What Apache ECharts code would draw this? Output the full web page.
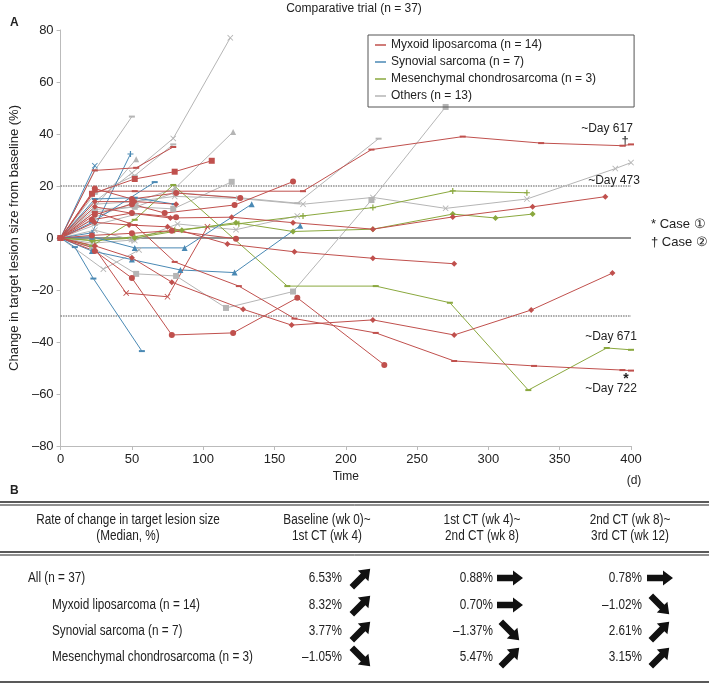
<!DOCTYPE html>
<html>
<head>
<meta charset="utf-8">
<script src="https://cdn.jsdelivr.net/npm/echarts@6/dist/echarts.min.js"></script>
<style>
  html, body { margin: 0; padding: 0; background: #fff; }
  #chart { width: 709px; height: 684px; }
</style>
</head>
<body>
<div id="chart"></div>
<script>
// days from start, % change from baseline
const myxoidLines = [
  [[0,0],[24,26],[53,27],[79,35]],
  [[0,0],[24,18],[52,18],[170,18],[218,34],[282,39],[337,36.5],[394,35.5],[400,36]],
  [[0,0],[22,17],[52,22.7],[80,25.5],[106,29.7]],
  [[0,0],[24,9],[50,13],[73,9.6],[122,12.7],[163,21.7]],
  [[0,0],[24,19],[50,15],[81,17.3],[126,15.4]],
  [[0,0],[24,14],[52,14],[81,13]],
  [[0,0],[24,12],[50,9.5],[77,7.7],[120,8],[163,5.9],[219,3.4],[275,8.1],[331,12],[382,15.9]],
  [[0,0],[22,1],[50,1.8],[78,2.8],[123,-0.3]],
  [[0,0],[24,-5],[50,-15.4],[78,-37.3],[121,-36.5],[166,-23],[227,-48.8]],
  [[0,0],[24,-3],[50,-7.6],[78,-17],[128,-27.4],[162,-33.5],[219,-31.5],[276,-37.3],[330,-27.7],[387,-13.5]],
  [[0,0],[24,-4],[46,-21.2],[75,-22.6],[103,4.3]],
  [[0,0],[24,10],[52,5],[80,-9.2],[125,-18.5],[164,-31],[221,-36.5],[276,-47.3],[332,-49.2],[394,-50.8],[400,-51]],
  [[0,0],[24,6],[48,5],[75,4.3],[117,-2.3],[164,-5.3],[219,-7.8],[276,-9.9]],
  [[0,0],[22,7],[50,9.6],[81,8]]
];
const myxoidMarks = ['dash','dash','rect','circle','circle','diamond','diamond','circle','circle','diamond','x','dash','diamond','circle'];

const synovialLines = [
  [[0,0],[24,27.8]],
  [[0,0],[22,2],[49,32.3]],
  [[0,0],[22,6],[66,21.5]],
  [[0,0],[22,0.5],[52,-3.8],[87,-3.8],[134,13]],
  [[0,0],[22,-5],[50,-8.3],[84,-12.3],[122,-13.3],[168,4.7]],
  [[0,0],[10,-3.5],[23,-15.6],[57,-43.5]],
  [[0,0],[24,15],[52,15.5],[80,13]]
];
const synovialMarks = ['x','plus','dash','triangle','triangle','dash','dash'];

const mesenLines = [
  [[0,0],[22,-3],[52,7],[79,20.4],[159,-18.5],[221,-18.5],[273,-24.9],[328,-58.5],[383,-42.3],[400,-43]],
  [[0,0],[24,-1],[52,0.5],[80,3],[125,5.5],[170,8.5],[219,11.7],[275,18.1],[327,17.4]],
  [[0,0],[22,-1],[52,0],[85,3],[123,5.9],[163,2.5],[219,3.4],[275,9.2],[305,7.7],[331,9.2]]
];
const mesenMarks = ['dash','plus','diamond'];

const otherLines = [
  [[0,0],[24,26],[50,46.7]],
  [[0,0],[24,14],[50,25],[79,38.3],[119,77]],
  [[0,0],[24,8],[53,14],[80,19],[121,40.8]],
  [[0,0],[24,12],[53,30.3]],
  [[0,0],[24,10],[52,12],[79,11.2],[120,21.6]],
  [[0,0],[22,-3.5],[53,-13.8],[81,-14.6],[116,-26.9],[163,-20.6],[218,14.6],[270,50.4]],
  [[0,0],[24,13],[52,14],[80,16],[125,15.2],[170,13],[219,15.6],[270,11.4],[327,15],[389,26.7],[400,29]],
  [[0,0],[24,11],[53,12],[80,17.5],[125,15.5],[166,13.4],[223,38.2]],
  [[0,0],[24,3],[52,-1],[82,5.4],[123,3.2],[166,8.5]],
  [[0,0],[30,-12],[55,-4.6]],
  [[0,0],[22,-2],[50,-0.8]],
  [[0,0],[24,17],[52,24],[79,36]],
  [[0,0],[24,5],[52,9]]
];
const otherMarks = ['dash','x','triangle','triangle','rect','rect','x','dash','x','x','star','dash','dash'];

const groupNames = ['Myxoid liposarcoma (n = 14)', 'Synovial sarcoma (n = 7)', 'Mesenchymal chondrosarcoma (n = 3)', 'Others (n = 13)'];
const refLevels = [20, -30];
const xTicks = [0, 400, 50];
const yTicks = [-80, 80, 20];

// table (panel B)
const tableHeader = ['Rate of change in target lesion size\n(Median, %)', 'Baseline (wk 0)~\n1st CT (wk 4)', '1st CT (wk 4)~\n2nd CT (wk 8)', '2nd CT (wk 8)~\n3rd CT (wk 12)'];
const tableRows = ['All (n = 37)', 'Myxoid liposarcoma (n = 14)', 'Synovial sarcoma (n = 7)', 'Mesenchymal chondrosarcoma (n = 3)'];
const tableValues = [
  ['6.53%', '0.88%', '0.78%'],
  ['8.32%', '0.70%', '\u20131.02%'],
  ['3.77%', '\u20131.37%', '2.61%'],
  ['\u20131.05%', '5.47%', '3.15%']
];
const tableTrends = [
  ['up', 'flat', 'flat'],
  ['up', 'flat', 'down'],
  ['up', 'down', 'up'],
  ['down', 'up', 'up']
];

const colors = ['#c0504d', '#4a89b4', '#8aa83e', '#b5b5b5'];
const FONT = "'Liberation Sans', Arial, sans-serif";

const SYM = {
  circle: ['circle', 6],
  rect: ['rect', 6],
  diamond: ['diamond', 6],
  triangle: ['triangle', 6],
  dash: ['path://M0,0H10V3H0Z', [6, 2]],
  x: ['path://M0,1L1,0L5,4L9,0L10,1L6,5L10,9L9,10L5,6L1,10L0,9L4,5Z', 6],
  plus: ['path://M4,0H6V4H10V6H6V10H4V6H0V4H4Z', 6],
  star: ['path://M4.3,0H5.7V3.4L8.6,1.5L9.3,2.7L6.3,4.3L6.3,5.7L9.3,7.3L8.6,8.5L5.7,6.6V10H4.3V6.6L1.4,8.5L0.7,7.3L3.7,5.7V4.3L0.7,2.7L1.4,1.5L4.3,3.4Z', 7]
};

function buildSeries(lines, marks, name, color) {
  return lines.map((pts, i) => ({
    name: name,
    type: 'line',
    data: pts,
    symbol: SYM[marks[i]][0],
    symbolSize: SYM[marks[i]][1],
    lineStyle: { color: color, width: 1 },
    itemStyle: { color: color },
    emphasis: { disabled: true },
    z: 3
  }));
}

let series = [];
refLevels.forEach(v => {
  series.push({
    type: 'line', data: [[0, v], [400, v]], symbol: 'none', silent: true,
    lineStyle: { color: '#555', width: 1.2, type: [1.5, 1] }, z: 2
  });
});
series.push({
  type: 'line', data: [[0, 0], [400, 0]], symbol: 'none', silent: true,
  lineStyle: { color: '#222', width: 1.2 }, z: 2
});
series = series
  .concat(buildSeries(otherLines, otherMarks, groupNames[3], colors[3]))
  .concat(buildSeries(mesenLines, mesenMarks, groupNames[2], colors[2]))
  .concat(buildSeries(synovialLines, synovialMarks, groupNames[1], colors[1]))
  .concat(buildSeries(myxoidLines, myxoidMarks, groupNames[0], colors[0]));

// graphic elements: labels, annotations, table
const graphics = [];
function txt(x, y, s, opt, sx) {
  graphics.push({
    type: 'text', x: x, y: y, scaleX: sx || 1, silent: true,
    style: Object.assign({ text: s, fill: '#222', font: '12px ' + FONT, textAlign: 'left', textVerticalAlign: 'middle' }, opt || {})
  });
}
function hline(y, w) {
  graphics.push({ type: 'line', silent: true, shape: { x1: 0, y1: y, x2: 709, y2: y }, style: { stroke: '#222', lineWidth: w } });
}
function arrow(cx, cy, dir) {
  const rot = dir === 'up' ? Math.PI / 4 : (dir === 'down' ? -Math.PI / 4 : 0);
  graphics.push({
    type: 'polygon', x: cx, y: cy, rotation: rot, silent: true,
    shape: { points: [[-13, -3.2], [3, -3.2], [3, -7.5], [13, 0], [3, 7.5], [3, 3.2], [-13, 3.2]] },
    style: { fill: '#111' }
  });
}

txt(354, 9, 'Comparative trial (n = 37)', { textAlign: 'center', font: '12px ' + FONT });
txt(10, 23, 'A', { font: 'bold 12px ' + FONT });
txt(10, 491, 'B', { font: 'bold 12px ' + FONT });
txt(634, 481, '(d)', { textAlign: 'center', font: '12px ' + FONT });
txt(607, 129, '~Day 617', { textAlign: 'center' });
txt(625, 141, '\u2020', { textAlign: 'center', font: '13px ' + FONT });
txt(614, 181, '~Day 473', { textAlign: 'center' });
txt(611, 337, '~Day 671', { textAlign: 'center' });
txt(626, 379, '*', { textAlign: 'center', font: 'bold 14px ' + FONT });
txt(611, 389, '~Day 722', { textAlign: 'center' });
txt(651, 224, '* Case \u2460', { font: '13px ' + FONT });
txt(651, 242, '\u2020 Case \u2461', { font: '13px ' + FONT });

// table
hline(502, 1.5); hline(505, 1);
hline(552, 1.5); hline(555, 1);
hline(682, 1.5);
const SX = 0.84;
const TFONT = '14px ' + FONT;
const headX = [128, 327, 482, 630];
tableHeader.forEach((h, i) => {
  txt(headX[i], 528, h, { textAlign: 'center', font: TFONT, lineHeight: 16 }, SX);
});
const rowY = [578, 605, 631, 657];
const valX = [342, 493, 642];
const arrX = [361, 510, 660];
tableRows.forEach((r, i) => {
  txt(i === 0 ? 28 : 52, rowY[i], r, { font: TFONT }, SX);
  tableValues[i].forEach((v, j) => {
    txt(valX[j], rowY[i], v, { textAlign: 'right', font: TFONT }, SX);
    arrow(arrX[j], rowY[i], tableTrends[i][j]);
  });
});

const chart = echarts.init(document.getElementById('chart'));
chart.setOption({
  animation: false,
  textStyle: { fontFamily: FONT },
  grid: { left: 53, right: 78, top: 30, bottom: 238 },
  legend: {
    data: groupNames,
    orient: 'vertical',
    left: 368, top: 35,
    padding: [3, 38, 4, 7],
    itemGap: 3,
    itemWidth: 11, itemHeight: 1.5,
    icon: 'rect',
    borderColor: '#555', borderWidth: 1,
    selectedMode: false,
    textStyle: { fontSize: 12, color: '#222', fontFamily: FONT, lineHeight: 14 }
  },
  xAxis: {
    type: 'value', min: xTicks[0], max: xTicks[1], interval: xTicks[2],
    name: 'Time', nameLocation: 'middle', nameGap: 25,
    nameTextStyle: { fontSize: 12, color: '#222' },
    axisLine: { show: true, onZero: false, lineStyle: { color: '#bbb' } },
    axisTick: { show: true, length: 4, lineStyle: { color: '#bbb' } },
    axisLabel: { fontSize: 13, color: '#222', margin: 7 },
    splitLine: { show: false }
  },
  yAxis: {
    type: 'value', min: yTicks[0], max: yTicks[1], interval: yTicks[2],
    name: 'Change in target lesion size from baseline (%)',
    nameLocation: 'middle', nameGap: 37,
    nameTextStyle: { fontSize: 13, color: '#222' },
    axisLine: { show: true, lineStyle: { color: '#bbb' } },
    axisTick: { show: true, length: 4, lineStyle: { color: '#bbb' } },
    axisLabel: { fontSize: 13, color: '#222', margin: 7, formatter: v => String(v).replace('-', '\u2013') },
    splitLine: { show: false }
  },
  series: series,
  graphic: graphics
});
</script>
</body>
</html>
